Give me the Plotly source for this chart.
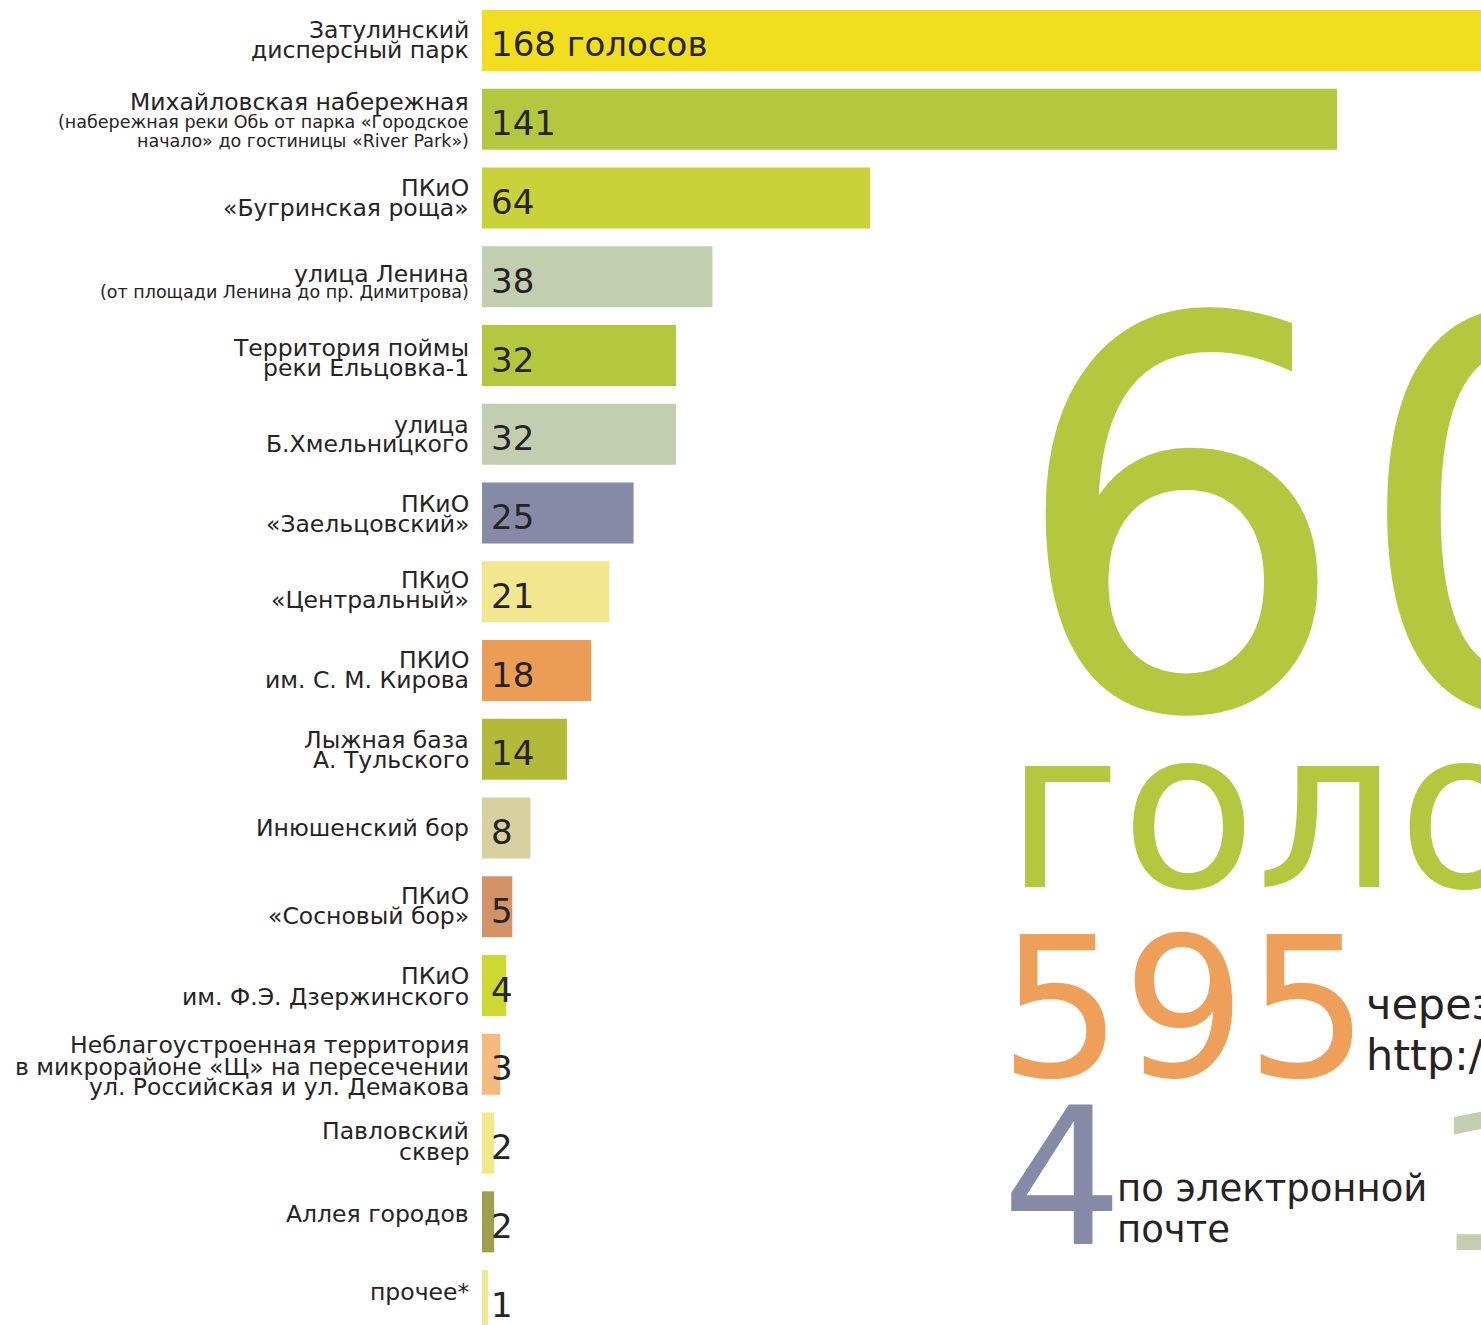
import plotly.graph_objects as go

# ---------------- data ----------------
categories = [
    "Затулинский дисперсный парк",
    "Михайловская набережная",
    "ПКиО «Бугринская роща»",
    "улица Ленина",
    "Территория поймы реки Ельцовка-1",
    "улица Б.Хмельницкого",
    "ПКиО «Заельцовский»",
    "ПКиО «Центральный»",
    "ПКИО им. С. М. Кирова",
    "Лыжная база А. Тульского",
    "Инюшенский бор",
    "ПКиО «Сосновый бор»",
    "ПКиО им. Ф.Э. Дзержинского",
    "Неблагоустроенная территория",
    "Павловский сквер",
    "Аллея городов",
    "прочее*",
]
votes = [168, 141, 64, 38, 32, 32, 25, 21, 18, 14, 8, 5, 4, 3, 2, 2, 1]
value_labels = ["168 голосов", "141", "64", "38", "32", "32", "25", "21", "18",
                "14", "8", "5", "4", "3", "2", "2", "1"]
label_lines = [
    ["Затулинский", "дисперсный парк"],
    ["Михайловская набережная", "(набережная реки Обь от парка «Городское",
     "начало» до гостиницы «River Park»)"],
    ["ПКиО", "«Бугринская роща»"],
    ["улица Ленина", "(от площади Ленина до пр. Димитрова)"],
    ["Территория поймы", "реки Ельцовка-1"],
    ["улица", "Б.Хмельницкого"],
    ["ПКиО", "«Заельцовский»"],
    ["ПКиО", "«Центральный»"],
    ["ПКИО", "им. С. М. Кирова"],
    ["Лыжная база", "А. Тульского"],
    ["Инюшенский бор"],
    ["ПКиО", "«Сосновый бор»"],
    ["ПКиО", "им. Ф.Э. Дзержинского"],
    ["Неблагоустроенная территория", "в микрорайоне «Щ» на пересечении",
     "ул. Российская и ул. Демакова"],
    ["Павловский", "сквер"],
    ["Аллея городов"],
    ["прочее*"],
]
bar_colors = ["#F0DE1F", "#B3C73F", "#CAD23A", "#C3CDAF", "#B3C73F", "#C3CDAF",
              "#868AA7", "#F2E78E", "#EC9D55", "#B3BA38", "#D8D19F", "#D39366",
              "#CDD830", "#F5BA7E", "#F2E98A", "#9FA04E", "#EDEA92"]

total_votes = "600"
total_word = "голосов"
site_votes = "595"
site_text = ["через сайт", "http://"]
email_votes = "4"
email_text = ["по электронной", "почте"]
other_votes = "1"

# ---------------- styling / layout ----------------
W, H = 1481, 1325
PLOT_L = 482
PLOT_W = W - PLOT_L
TEXT = "#262324"
FONT = "DejaVu Sans"
# vertical offsets (px, downward) of each label line from the bar centre
line_offsets = [
    [-10, 10], [-17, 3, 22], [-10, 10], [-3, 15], [-8, 12], [-9.5, 9.5],
    [-9.5, 10.5], [-11.5, 8.5], [-11, 9.5], [-9.5, 10.5], [0], [-11, 9],
    [-10, 11], [-19, 2.5, 22.5], [-12, 9], [-8], [-9],
]
small_lines = {(1, 1), (1, 2), (3, 1)}

fig = go.Figure()
fig.add_trace(go.Bar(
    x=votes, y=categories, orientation="h",
    marker=dict(color=bar_colors, line=dict(width=0)),
    hoverinfo="skip", showlegend=False,
))

annotations = []
for i, cat in enumerate(categories):
    for j, line in enumerate(label_lines[i]):
        small = (i, j) in small_lines
        annotations.append(dict(
            x=0, y=cat, xref="x", yref="y", text=line, showarrow=False,
            xanchor="right", yanchor="middle", xshift=-11,
            yshift=-line_offsets[i][j],
            font=dict(family=FONT, size=17.5 if small else 23.5, color=TEXT),
        ))
    annotations.append(dict(
        x=0, y=cat, xref="x", yref="y", text=value_labels[i], showarrow=False,
        xanchor="left", yanchor="middle", xshift=7, yshift=-4,
        font=dict(family=FONT, size=34, color=TEXT),
    ))


def px_x(p):
    # page pixel -> paper fraction of the plot area
    return (p - PLOT_L) / PLOT_W


def px_y(p):
    return 1 - p / H


big = [
    (total_votes, 1006, 521, 540, "#B3C73F"),
    (total_word, 1003, 811, 221, "#B3C73F"),
    (site_votes, 997, 1009, 194, "#EE9F5A"),
    (email_votes, 1000, 1178, 190, "#868AA7"),
    (other_votes, 1431, 1184, 190, "#C3CDAF"),
]
for txt, xl, yc, size, col in big:
    annotations.append(dict(
        x=px_x(xl), y=px_y(yc), xref="paper", yref="paper", text=txt,
        showarrow=False, xanchor="left", yanchor="middle",
        font=dict(family=FONT, size=size, color=col),
    ))

for k, line in enumerate(site_text):
    annotations.append(dict(
        x=px_x(1364), y=px_y([1004, 1055][k]), xref="paper", yref="paper",
        text=line, showarrow=False, xanchor="left", yanchor="middle",
        font=dict(family=FONT, size=43, color=TEXT),
    ))
for k, line in enumerate(email_text):
    annotations.append(dict(
        x=px_x(1115), y=px_y([1188, 1229.5][k]), xref="paper", yref="paper",
        text=line, showarrow=False, xanchor="left", yanchor="middle",
        font=dict(family=FONT, size=37, color=TEXT),
    ))

fig.update_layout(
    width=W, height=H,
    margin=dict(l=PLOT_L, r=0, t=0, b=0, pad=0),
    paper_bgcolor="white", plot_bgcolor="white",
    bargap=0.225,
    xaxis=dict(range=[0, PLOT_W / 6.064], visible=False, fixedrange=True),
    yaxis=dict(type="category", range=[16.31, -0.514], visible=False,
               fixedrange=True),
    annotations=annotations,
    showlegend=False,
)

fig.write_html("out.html", include_plotlyjs=True,
               config={"displayModeBar": False},
               post_script="document.body.style.margin='0';document.body.style.overflow='hidden';")
